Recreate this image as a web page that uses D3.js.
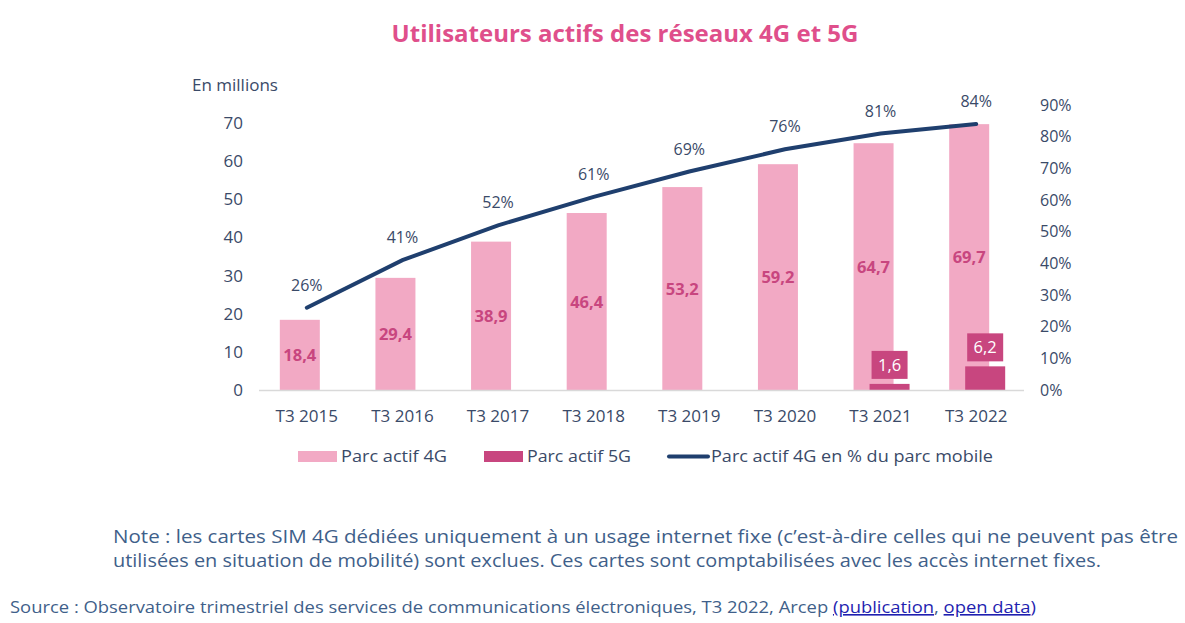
<!DOCTYPE html>
<html><head><meta charset="utf-8">
<script src="https://cdn.jsdelivr.net/npm/d3@7"></script>
<style>body{margin:0;background:#fff;} svg{display:block;font-family:"Open Sans",sans-serif;}</style>
</head><body>
<svg id="c" width="1185" height="623"></svg>
<script>
const categories = ["T3 2015","T3 2016","T3 2017","T3 2018","T3 2019","T3 2020","T3 2021","T3 2022"];
const parc4G = [18.4, 29.4, 38.9, 46.4, 53.2, 59.2, 64.7, 69.7];
const parc5G = [null, null, null, null, null, null, 1.6, 6.2];
const pct4G = [0.26, 0.41, 0.52, 0.61, 0.69, 0.76, 0.81, 0.84];
const leftTicks = [0,10,20,30,40,50,60,70];
const rightTicks = [0,0.1,0.2,0.3,0.4,0.5,0.6,0.7,0.8,0.9];
const legendLabels = ["Parc actif 4G","Parc actif 5G","Parc actif 4G en % du parc mobile"];

const C4 = "#f2a9c4", C5 = "#c8467f", CL = "#1f3f6e", TXT = "#3a4a68";
const svg = d3.select("#c");
const fmt = d => d.toFixed(1).replace(".", ",");

const x = d3.scaleBand().domain(categories).range([259, 1024]).paddingInner(0).paddingOuter(0);
const y = d3.scaleLinear().domain([0, 70]).range([390, 123]);
const y2 = d3.scaleLinear().domain([0, 0.9]).range([390, 105]);
const cx = c => x(c) + x.bandwidth() / 2;

// title
svg.append("text").attr("x", 625).attr("y", 42).attr("text-anchor", "middle")
  .attr("font-size", 24).attr("font-weight", 700).attr("fill", "#df4f8b")
  .text("Utilisateurs actifs des réseaux 4G et 5G");

// left axis
const gl = svg.append("g").attr("transform", "translate(243,0)")
  .call(d3.axisLeft(y).tickValues(leftTicks).tickSize(0).tickPadding(0).tickFormat(d3.format("d")));
gl.select(".domain").remove();
gl.selectAll("text").attr("font-size", 17).attr("fill", TXT).attr("font-family", "Open Sans");
svg.append("text").attr("x", 192).attr("y", 91).attr("font-size", 17).attr("fill", TXT).text("En millions");

// right axis
const gr = svg.append("g").attr("transform", "translate(1040,0)")
  .call(d3.axisRight(y2).tickValues(rightTicks).tickSize(0).tickPadding(0).tickFormat(d3.format(".0%")));
gr.select(".domain").remove();
gr.selectAll("text").attr("font-size", 16).attr("fill", TXT).attr("font-family", "Open Sans");

// 4G bars
const data = categories.map((c, i) => ({c, v4: parc4G[i], v5: parc5G[i], p: pct4G[i]}));
svg.selectAll("rect.b4").data(data).join("rect").attr("class", "b4")
  .attr("x", d => cx(d.c) - 27).attr("width", 40)
  .attr("y", d => y(d.v4)).attr("height", d => y(0) - y(d.v4)).attr("fill", C4);
svg.selectAll("text.l4").data(data).join("text").attr("class", "l4")
  .attr("x", d => cx(d.c) - 7).attr("y", d => (y(d.v4) + y(0)) / 2 + 6)
  .attr("text-anchor", "middle").attr("font-size", 16.5).attr("font-weight", 700).attr("fill", "#c8467f")
  .text(d => fmt(d.v4));

// 5G bars
const d5 = data.filter(d => d.v5 != null);
svg.selectAll("rect.b5").data(d5).join("rect").attr("class", "b5")
  .attr("x", d => cx(d.c) - 11).attr("width", 40)
  .attr("y", d => y(d.v5)).attr("height", d => y(0) - y(d.v5)).attr("fill", C5);
svg.selectAll("rect.lb5").data(d5).join("rect").attr("class", "lb5")
  .attr("x", d => cx(d.c) + 9 - 18).attr("width", 36)
  .attr("y", d => y(d.v5) - 33).attr("height", 28).attr("fill", C5);
svg.selectAll("text.l5").data(d5).join("text").attr("class", "l5")
  .attr("x", d => cx(d.c) + 9).attr("y", d => y(d.v5) - 13)
  .attr("text-anchor", "middle").attr("font-size", 16.5).attr("fill", "#fff")
  .text(d => fmt(d.v5));

// baseline
svg.append("line").attr("x1", 259).attr("x2", 1024).attr("y1", y(0) + 0.5).attr("y2", y(0) + 0.5)
  .attr("stroke", "#d9d9d9").attr("stroke-width", 1.5);

// category labels
svg.selectAll("text.cat").data(categories).join("text").attr("class", "cat")
  .attr("x", d => cx(d)).attr("y", 422).attr("text-anchor", "middle")
  .attr("font-size", 17).attr("fill", TXT).text(d => d);

// line
const line = d3.line().x(d => cx(d.c)).y(d => y2(d.p));
svg.append("path").datum(data).attr("d", line).attr("fill", "none")
  .attr("stroke", CL).attr("stroke-width", 4).attr("stroke-linecap", "round");
svg.selectAll("text.lp").data(data).join("text").attr("class", "lp")
  .attr("x", d => cx(d.c)).attr("y", d => y2(d.p) - 17)
  .attr("text-anchor", "middle").attr("font-size", 16).attr("fill", TXT)
  .text(d => Math.round(d.p * 100) + "%");

// legend
const lg = svg.append("g").attr("font-size", 17).attr("fill", TXT);
lg.append("rect").attr("x", 298).attr("y", 451).attr("width", 39).attr("height", 11).attr("fill", C4);
lg.append("text").attr("x", 341).attr("y", 462).attr("textLength", 106).attr("lengthAdjust", "spacingAndGlyphs").text(legendLabels[0]);
lg.append("rect").attr("x", 484).attr("y", 451).attr("width", 39).attr("height", 11).attr("fill", C5);
lg.append("text").attr("x", 527).attr("y", 462).attr("textLength", 104).attr("lengthAdjust", "spacingAndGlyphs").text(legendLabels[1]);
lg.append("line").attr("x1", 669).attr("x2", 708).attr("y1", 456.5).attr("y2", 456.5)
  .attr("stroke", CL).attr("stroke-width", 4).attr("stroke-linecap", "round");
lg.append("text").attr("x", 711).attr("y", 462).attr("textLength", 282).attr("lengthAdjust", "spacingAndGlyphs").text(legendLabels[2]);

// note
const NC = "#3f5f8a";
svg.append("text").attr("x", 113).attr("y", 543).attr("font-size", 18).attr("fill", NC)
  .attr("textLength", 1065).attr("lengthAdjust", "spacingAndGlyphs")
  .text("Note : les cartes SIM 4G dédiées uniquement à un usage internet fixe (c’est-à-dire celles qui ne peuvent pas être");
svg.append("text").attr("x", 113).attr("y", 567).attr("font-size", 18).attr("fill", NC)
  .attr("textLength", 988).attr("lengthAdjust", "spacingAndGlyphs")
  .text("utilisées en situation de mobilité) sont exclues. Ces cartes sont comptabilisées avec les accès internet fixes.");

// source
const src = svg.append("text").attr("x", 10).attr("y", 613).attr("font-size", 16).attr("fill", NC)
  .attr("textLength", 1026).attr("lengthAdjust", "spacingAndGlyphs");
src.append("tspan").text("Source : Observatoire trimestriel des services de communications électroniques, T3 2022, Arcep ");
src.append("tspan").attr("fill", "#1f1fb0").attr("text-decoration", "underline").text("(publication");
src.append("tspan").text(", ");
src.append("tspan").attr("fill", "#1f1fb0").attr("text-decoration", "underline").text("open data");
src.append("tspan").attr("fill", "#1f1fb0").text(")");
</script>
</body></html>
